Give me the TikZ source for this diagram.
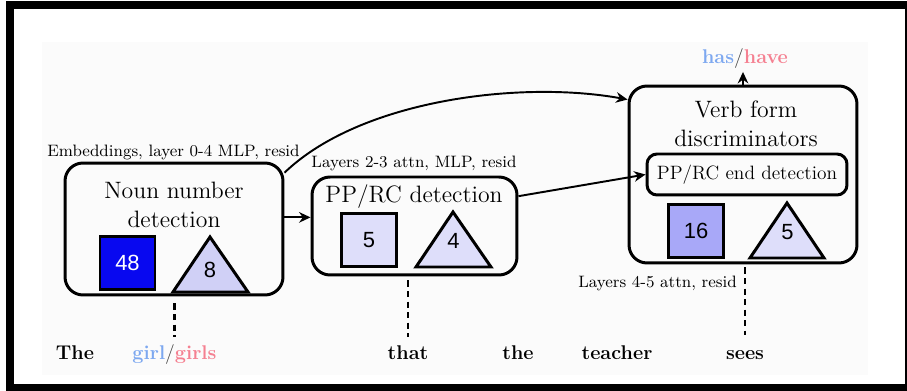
\documentclass[tikz,border=0pt]{standalone}
\usepackage{fontspec}
\newfontfamily\numfont{Liberation Sans}
\usetikzlibrary{arrows.meta,calc}
\definecolor{deepblue}{RGB}{8,8,240}
\definecolor{midlav}{RGB}{168,168,248}
\definecolor{palelav}{RGB}{222,222,250}
\definecolor{trilav}{RGB}{208,208,246}
\definecolor{sgblue}{RGB}{125,168,240}
\definecolor{plpink}{RGB}{245,128,145}
\definecolor{panel}{RGB}{251,251,251}
\begin{document}
\begin{tikzpicture}[x=0.02cm,y=-0.02cm,
  group/.style={draw,line width=1.7pt,rounded corners=0.36cm,inner sep=0pt},
  sub/.style={draw,line width=1.7pt,rounded corners=0.2cm,inner sep=0pt,
    minimum width=4cm,minimum height=0.82cm,font=\fontsize{11}{13}\selectfont},
  title/.style={font=\fontsize{13.5}{16.5}\selectfont,align=center,inner sep=0pt},
  tag/.style={font=\fontsize{9.4}{11}\selectfont,inner sep=0pt,anchor=base},
  word/.style={font=\fontsize{11.3}{13}\selectfont\bfseries,inner sep=0pt,anchor=base},
  unitsq/.style={draw,line width=1.7pt,minimum width=1.1cm,minimum height=1.06cm,
    inner sep=0pt,font=\numfont\fontsize{12.5}{14}\selectfont},
  tri/.style={draw,line width=1.7pt,line join=miter},
  trinum/.style={font=\numfont\fontsize{12.5}{14}\selectfont,inner sep=0pt},
  arr/.style={line width=1.1pt,-{Stealth[length=6.5pt,width=6pt]}},
  link/.style={line width=1.7pt,dash pattern=on 3.5pt off 2.5pt}
]
\useasboundingbox (0,0) rectangle (907,391);
\clip (0,0) rectangle (907,391);
% page, panel and frame
\fill[white] (0,0) rectangle (907,391);
\fill[panel] (42,42) rectangle (868,375);
\draw[line width=0.16cm] (10,5) rectangle (909,388);

% component boxes
\node[group,minimum width=4.36cm,minimum height=2.64cm] (noun) at (174,229) {};
\node[group,minimum width=4.1cm,minimum height=1.96cm] (pprc) at (414.5,226) {};
\node[group,minimum width=4.56cm,minimum height=3.54cm] (verb) at (743,174.5) {};
\node[sub] (inner) at (747,174.5) {PP/RC end detection};

% box titles
\node[title] (nountitle) at (174,205) {Noun number\\detection};
\node[title,anchor=base] (pptitle) at (414,203) {PP/RC detection};
\node[title] (verbtitle) at (746,123.5) {Verb form\\discriminators};

% layer tags
\node[tag] (tagnoun) at (173.5,157) {Embeddings, layer 0-4 MLP, resid};
\node[tag] (tagpp) at (414,168) {Layers 2-3 attn, MLP, resid};
\node[tag] (tagverb) at (657.5,288) {Layers 4-5 attn, resid};

% unit counts: squares
\node[unitsq,fill=deepblue,text=white] (sqnoun) at (127.5,263) {48};
\node[unitsq,fill=palelav] (sqpp) at (369,240) {5};
\node[unitsq,fill=midlav] (sqverb) at (696,231) {16};

% unit counts: triangles
\draw[tri,fill=trilav] (173,292) -- (210,237) -- (248,292) -- cycle;
\node[trinum] (trinoun) at (210,269.5) {8};
\draw[tri,fill=palelav] (416,267) -- (453,212) -- (491,267) -- cycle;
\node[trinum] (tripp) at (453.5,240.5) {4};
\draw[tri,fill=palelav] (750,258) -- (787,203) -- (824,258) -- cycle;
\node[trinum] (triverb) at (787.5,232.5) {5};

% sentence
\node[word] (wthe) at (75,360) {The};
\node[word] (wgirl) at (174.5,360) {{\color{sgblue}girl}{\mdseries\color{black!75}/}{\color{plpink}girls}};
\node[word] (wthat) at (408,360) {that};
\node[word] (wthe2) at (518,360) {the};
\node[word] (wteacher) at (617,360) {teacher};
\node[word] (wsees) at (745,360) {sees};
\node[word] (hh) at (745,64) {{\color{sgblue}has}{\mdseries\color{black!75}/}{\color{plpink}have}};

% token links
\draw[link] ($(wgirl.base |- noun.south)+(0,7)$) -- ($(wgirl.base)+(0,-23)$);
\draw[link] ($(wthat.base |- pprc.south)+(0,4)$) -- ($(wthat.base)+(0,-23)$);
\draw[link] ($(wsees.base |- verb.south)+(0,3)$) -- ($(wsees.base)+(0,-25)$);

% information flow
\draw[arr] (noun.6) -- (noun.6 -| pprc.west);
\draw[arr] (noun.27) .. controls (360,100) and (520,80) .. (verb.147);
\draw[arr] (pprc.16) -- (inner.west);
\draw[arr,shorten >=1.5pt] (verb.north) -- (verb.north |- hh.south);
\end{tikzpicture}
\end{document}
